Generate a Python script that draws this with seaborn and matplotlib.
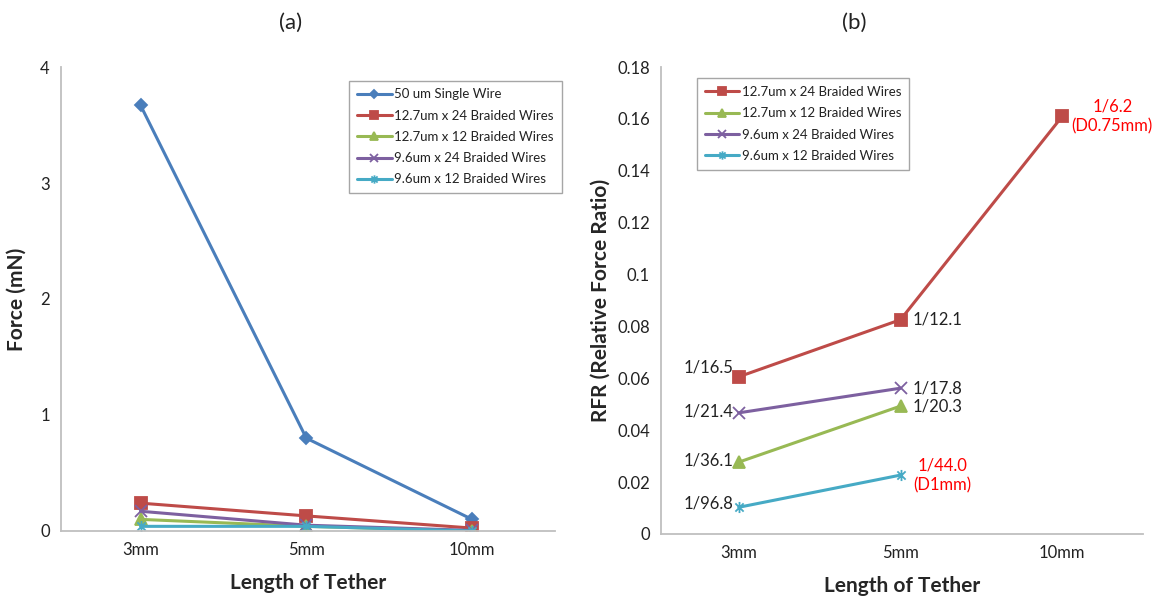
"""
plot.py
Tether length vs. force (a) and relative force ratio (b) for single and braided wires.
"""

import numpy as np
import pandas as pd
import matplotlib
matplotlib.use("Agg")
import matplotlib.pyplot as plt
from matplotlib.path import Path
import seaborn as sns

# ── Data ──────────────────────────────────────────────────────────────────────
LENGTHS = ["3mm", "5mm", "10mm"]

SERIES_A = ["50 um Single Wire",
            "12.7um x 24 Braided Wires",
            "12.7um x 12 Braided Wires",
            "9.6um x 24 Braided Wires",
            "9.6um x 12 Braided Wires"]
FORCE_SINGLE_50 = [3.67, 0.80, 0.10]
FORCE_127_24 = [0.24, 0.13, 0.025]
FORCE_127_12 = [0.10, 0.04, 0.0]
FORCE_96_24 = [0.17, 0.05, 0.005]
FORCE_96_12 = [0.04, 0.04, 0.0]

SERIES_B = SERIES_A[1:]
RFR_127_24 = [0.0606, 0.0826, 0.161]
RFR_127_12 = [0.0277, 0.0493, np.nan]
RFR_96_24 = [0.0467, 0.0562, np.nan]
RFR_96_12 = [0.0103, 0.0227, np.nan]

# text labels on panel (b)
LABELS_LEFT = [("12.7um x 24 Braided Wires", "1/16.5"),
               ("9.6um x 24 Braided Wires", "1/21.4"),
               ("12.7um x 12 Braided Wires", "1/36.1"),
               ("9.6um x 12 Braided Wires", "1/96.8")]
LABELS_RIGHT = [("12.7um x 24 Braided Wires", "1/12.1"),
                ("9.6um x 24 Braided Wires", "1/17.8"),
                ("12.7um x 12 Braided Wires", "1/20.3")]
LABELS_RED = [("12.7um x 24 Braided Wires", "10mm", "1/6.2\n(D0.75mm)"),
              ("9.6um x 12 Braided Wires", "5mm", "1/44.0\n(D1mm)")]

# ── Style ─────────────────────────────────────────────────────────────────────
ASTERISK = Path([(-1, -1), (1, 1), (-1, 1), (1, -1), (0, -1.35), (0, 1.35)],
                [Path.MOVETO, Path.LINETO, Path.MOVETO, Path.LINETO,
                 Path.MOVETO, Path.LINETO])

PALETTE = {
    "50 um Single Wire":         "#4A7EBB",
    "12.7um x 24 Braided Wires": "#BE4B48",
    "12.7um x 12 Braided Wires": "#98B954",
    "9.6um x 24 Braided Wires":  "#7D60A0",
    "9.6um x 12 Braided Wires":  "#46AAC5",
}
MARKERS = {
    "50 um Single Wire":         ("D", 6),
    "12.7um x 24 Braided Wires": ("s", 8),
    "12.7um x 12 Braided Wires": ("^", 8),
    "9.6um x 24 Braided Wires":  ("x", 8),
    "9.6um x 12 Braided Wires":  (ASTERISK, 8),
}

sns.set_style("white")
plt.rcParams["font.family"] = ["Lato", "DejaVu Sans"]
plt.rcParams["axes.edgecolor"] = "#BFBFBF"
plt.rcParams["text.color"] = "#222222"


def long_form(series, arrays, value_name):
    rows = []
    for name, vals in zip(series, arrays):
        for length, v in zip(LENGTHS, vals):
            rows.append({"Series": name, "Length": length, value_name: v})
    return pd.DataFrame(rows)


df_a = long_form(SERIES_A, [FORCE_SINGLE_50, FORCE_127_24, FORCE_127_12,
                            FORCE_96_24, FORCE_96_12], "Force")
df_b = long_form(SERIES_B, [RFR_127_24, RFR_127_12, RFR_96_24, RFR_96_12], "RFR")


def draw_panel(ax, df, series, ycol):
    for name in series:
        sub = df[df["Series"] == name].dropna()
        m, ms = MARKERS[name]
        sns.lineplot(data=sub, x="Length", y=ycol, ax=ax, color=PALETTE[name],
                     marker=m, markersize=ms, markeredgecolor=PALETTE[name],
                     markeredgewidth=1.3, linewidth=2.2, label=name,
                     sort=False)
    ax.set_xlim(-0.48, 2.5)
    ax.tick_params(axis="both", length=0, labelsize=12, pad=8,
                   labelcolor="#222222")
    ax.set_xlabel("Length of Tether", fontsize=15, fontweight="bold", labelpad=11)
    ax.spines[["top", "right"]].set_visible(False)
    ax.spines[["left", "bottom"]].set_linewidth(1.3)


def add_legend(ax, anchor):
    ax.legend(loc="upper left", bbox_to_anchor=anchor,
              bbox_transform=fig.transFigure, fontsize=9.5, frameon=True,
              fancybox=False, edgecolor="#A6A6A6", handlelength=2.6,
              markerscale=0.75, borderpad=0.6, labelspacing=0.7,
              handletextpad=0.2, framealpha=1)


fig = plt.figure(figsize=(11.66, 6.01), dpi=100)
ax_a = fig.add_axes([0.0523, 0.1165, 0.4237, 0.772])
ax_b = fig.add_axes([0.567, 0.1115, 0.4134, 0.777])

# ── Panel (a) ────────────────────────────────────────────────────────────────
draw_panel(ax_a, df_a, SERIES_A, "Force")
ax_a.set_ylim(0, 4)
ax_a.set_yticks([0, 1, 2, 3, 4])
ax_a.set_ylabel("Force (mN)", fontsize=15, fontweight="bold", labelpad=10)
add_legend(ax_a, (0.294, 0.877))
fig.text(0.249, 0.962, "(a)", fontsize=16, ha="center", va="center")

# ── Panel (b) ────────────────────────────────────────────────────────────────
draw_panel(ax_b, df_b, SERIES_B, "RFR")
ax_b.set_ylim(0, 0.18)
ax_b.set_yticks(np.arange(0, 0.181, 0.02))
ax_b.set_yticklabels(["0", "0.02", "0.04", "0.06", "0.08", "0.1",
                      "0.12", "0.14", "0.16", "0.18"])
ax_b.set_ylabel("RFR (Relative Force Ratio)", fontsize=15, fontweight="bold",
                labelpad=5)
add_legend(ax_b, (0.592, 0.881))
fig.text(0.733, 0.962, "(b)", fontsize=16, ha="center", va="center")

val = df_b.set_index(["Series", "Length"])["RFR"]
left_dy = {"1/16.5": 7, "1/21.4": 1, "1/36.1": 1, "1/96.8": 3}
for name, txt in LABELS_LEFT:
    ax_b.annotate(txt, (0, val[(name, "3mm")]), xytext=(-4, left_dy[txt]),
                  textcoords="offset points", ha="right", va="center",
                  fontsize=12)
for name, txt in LABELS_RIGHT:
    ax_b.annotate(txt, (1, val[(name, "5mm")]), xytext=(9, 0),
                  textcoords="offset points", ha="left", va="center",
                  fontsize=12)
for name, length, txt in LABELS_RED:
    ax_b.annotate(txt, (LENGTHS.index(length), val[(name, length)]),
                  xytext=(36 if length == "10mm" else 30, 0),
                  textcoords="offset points", ha="center", va="center",
                  fontsize=12, color="#FF0000", linespacing=1.3)

fig.savefig("out.png", dpi=100)
